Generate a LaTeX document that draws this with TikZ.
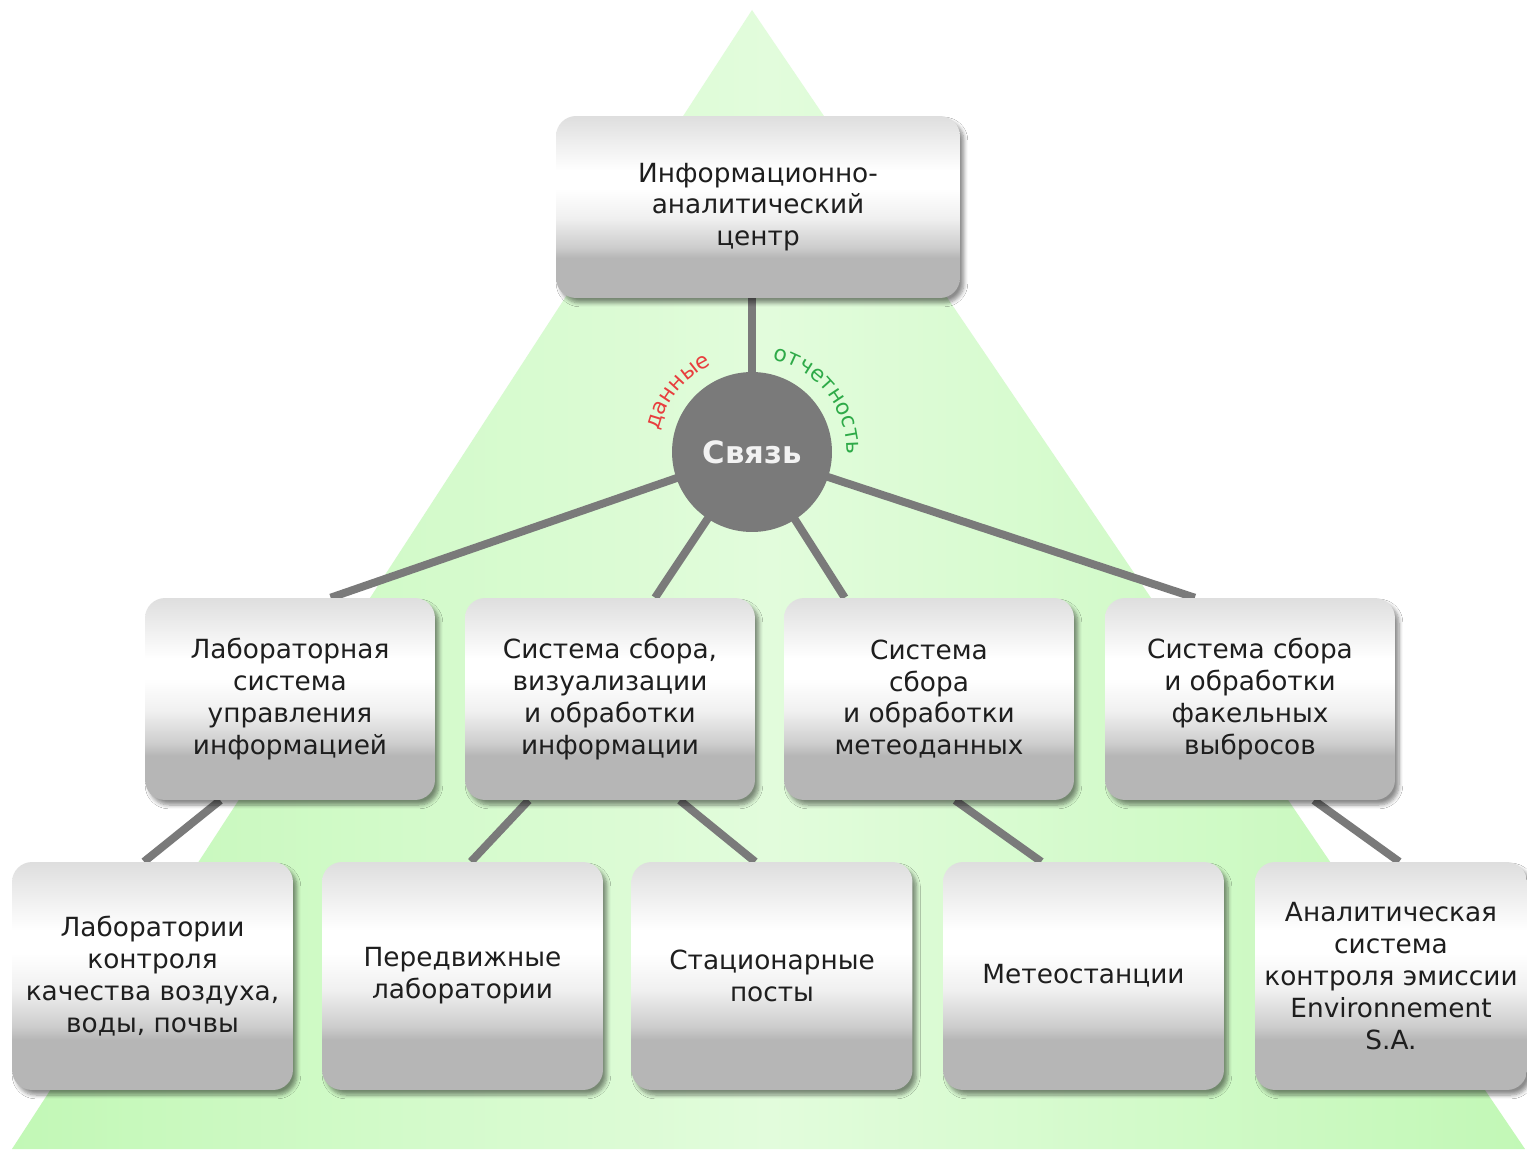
\documentclass[tikz,border=0pt]{standalone}
\usepackage{fontspec}
\setmainfont{DejaVu Sans}
\usetikzlibrary{shadows,shadows.blur,calc,decorations.text}
\pgfdeclarelayer{bg}
\pgfdeclarelayer{lines}
\pgfsetlayers{bg,lines,main}
\definecolor{gA}{RGB}{194,248,182}
\definecolor{gB}{RGB}{226,252,220}
\definecolor{cbot}{RGB}{182,182,182}
\definecolor{cmid}{RGB}{205,205,205}
\definecolor{clight}{RGB}{240,240,240}
\definecolor{ctop}{RGB}{222,222,222}
\definecolor{conn}{RGB}{122,122,122}
\definecolor{txt}{RGB}{30,30,30}
\definecolor{datared}{RGB}{232,62,62}
\definecolor{repgreen}{RGB}{46,170,72}
\pgfdeclareverticalshading{boxshade}{100bp}{color(0bp)=(cbot); color(25bp)=(cbot); color(36bp)=(cbot); color(39bp)=(cmid); color(47bp)=(clight); color(55bp)=(white); color(60bp)=(white); color(75bp)=(ctop); color(100bp)=(ctop)}
\begin{document}
\begin{tikzpicture}[x=0.02cm,y=0.02cm,
  box/.style={rectangle, rounded corners=0.4cm, shade, shading=boxshade,
    blur shadow={shadow xshift=0.08cm, shadow yshift=-0.1cm, shadow blur steps=6, shadow blur extra rounding=2pt, shadow opacity=45},
    inner sep=0pt, align=center, text=txt, font=\fontsize{15}{18.1}\selectfont},
  rowb/.style={box, minimum width=5.8cm, minimum height=4.04cm},
  rowc/.style={box, minimum width=5.62cm, minimum height=4.56cm},
  wire/.style={draw=conn, line width=4.5pt},
  ]
\useasboundingbox (0,-1149) rectangle (1527,0);

% nodes
\node[box, minimum width=8.08cm, minimum height=3.64cm] (top) at (758,-207) {Информационно-\\аналитический\\центр};
\node[circle, fill=conn, minimum size=3.2cm, inner sep=0pt, text=white!95!black,
      font=\bfseries\fontsize{17.5}{18}\selectfont] (hub) at (752,-452) {Связь};

\node[rowb] (b1) at (290,-699) {Лабораторная\\система\\управления\\информацией};
\node[rowb] (b2) at (610,-699) {Система сбора,\\визуализации\\и обработки\\информации};
\node[rowb] (b3) at (929,-699) {Система\\сбора\\и обработки\\метеоданных};
\node[rowb] (b4) at (1250,-699) {Система сбора\\и обработки\\факельных\\выбросов};

\node[rowc] (c1) at (152.5,-976) {Лаборатории\\контроля\\качества воздуха,\\воды, почвы};
\node[rowc] (c2) at (462.5,-976) {Передвижные\\лаборатории};
\node[rowc] (c3) at (772,-976) {Стационарные\\посты};
\node[rowc] (c4) at (1083.5,-976) {Метеостанции};
\node[rowc, minimum width=5.44cm] (c5) at (1391,-976) {Аналитическая\\система\\контроля эмиссии\\Environnement\\S.A.};

% curved labels
\path[decorate, decoration={text along path, text align=center,
   text={|\fontsize{12.5}{13}\selectfont\color{datared}|данные}}]
   ([shift={(174:1.92cm)}]hub.center) arc[start angle=174, end angle=108, radius=1.92cm];
\path[decorate, decoration={text along path, text align=center,
   text={|\fontsize{12.5}{13}\selectfont\color{repgreen}|отчетность}}]
   ([shift={(84:1.9cm)}]hub.center) arc[start angle=84, end angle=-8, radius=1.9cm];

% connectors
\begin{pgfonlayer}{lines}
\draw[wire] (hub.center) -- (hub.center |- top.south);
\draw[wire] (hub.center) -- ($(b1.north west)!0.64!(b1.north east)$);
\draw[wire] (hub.center) -- ($(b2.north west)!0.655!(b2.north east)$);
\draw[wire] (hub.center) -- ($(b3.north west)!0.21!(b3.north east)$);
\draw[wire] (hub.center) -- ($(b4.north west)!0.31!(b4.north east)$);
\draw[wire] ($(b1.south west)!0.26!(b1.south east)$) -- ($(c1.north west)!0.47!(c1.north east)$);
\draw[wire] ($(b2.south west)!0.22!(b2.south east)$) -- ($(c2.north west)!0.53!(c2.north east)$);
\draw[wire] ($(b2.south west)!0.74!(b2.south east)$) -- ($(c3.north west)!0.44!(c3.north east)$);
\draw[wire] ($(b3.south west)!0.59!(b3.south east)$) -- ($(c4.north west)!0.35!(c4.north east)$);
\draw[wire] ($(b4.south west)!0.72!(b4.south east)$) -- ($(c5.north west)!0.53!(c5.north east)$);
\end{pgfonlayer}

% background triangle
\begin{pgfonlayer}{bg}
\fill[white] (0,-1149) rectangle (1527,0);
\shade[left color=gA, right color=gA, middle color=gB] (752,-10) -- (12,-1149) -- (1525,-1149) -- cycle;
\end{pgfonlayer}
\end{tikzpicture}
\end{document}
